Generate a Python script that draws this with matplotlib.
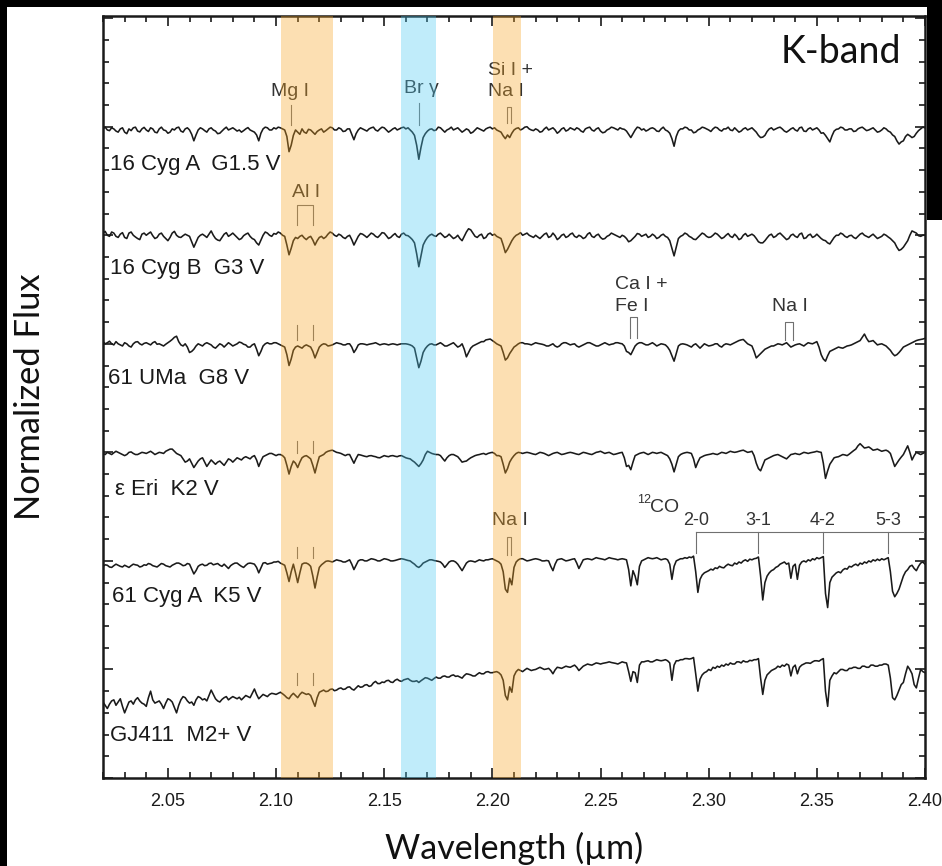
import numpy as np
import matplotlib.pyplot as plt
from matplotlib.patches import Rectangle
from matplotlib.ticker import MultipleLocator, FormatStrFormatter

# wavelength grid of the resampled spectra (micron), 0.001 um steps
wavelength = np.linspace(2.02, 2.40, 381)

star_names = ["16 Cyg A  G1.5 V", "16 Cyg B  G3 V", "61 UMa  G8 V",
              "\u03b5 Eri  K2 V", "61 Cyg A  K5 V", "GJ411  M2+ V"]
offsets = [2.0, 1.5, 1.0, 0.5, 0.0, -0.5]
label_y = [2.824, 2.349, 1.842, 1.327, 0.834, 0.198]
label_x = [2.0231, 2.0231, 2.0222, 2.0255, 2.0241, 2.0231]

flux_16cyga = [
    0.99, 0.998, 0.985, 0.982, 0.995, 0.99, 0.98, 0.975, 0.99, 0.995, 0.975, 0.968, 0.99, 0.982, 0.995, 0.998, 0.98, 0.976, 0.99, 0.997,
    0.985, 0.978, 0.995, 0.99, 0.975, 0.972, 0.99, 0.998, 0.985, 0.982, 0.97, 0.975, 0.99, 0.985, 0.995, 0.998, 0.98, 0.975, 0.99, 0.995,
    0.985, 0.965, 0.935, 0.962, 0.985, 0.995, 0.99, 0.982, 0.975, 0.99, 0.995, 0.985, 0.98, 0.968, 0.97, 0.98, 0.99, 0.998, 0.985, 0.99,
    0.995, 0.988, 0.98, 0.985, 0.975, 0.982, 0.99, 0.996, 0.985, 0.98, 0.975, 0.962, 0.935, 0.97, 0.99, 0.998, 0.995, 0.985, 0.985, 0.995,
    0.99, 0.998, 0.995, 0.99, 0.985, 0.955, 0.885, 0.915, 0.96, 0.985, 0.975, 0.965, 0.99, 0.975, 0.97, 0.988, 0.985, 0.975, 0.965, 0.978,
    0.985, 0.99, 0.975, 0.982, 0.99, 0.998, 0.995, 0.985, 0.985, 0.995, 0.99, 0.978, 0.98, 0.99, 0.99, 0.965, 0.94, 0.968, 0.985, 0.995,
    0.99, 0.985, 0.98, 0.99, 0.995, 0.998, 0.985, 0.98, 0.99, 0.998, 0.995, 0.985, 0.975, 0.982, 0.99, 0.995, 0.985, 0.99, 0.995, 0.998,
    0.99, 0.995, 0.985, 0.975, 0.96, 0.915, 0.85, 0.905, 0.95, 0.968, 0.98, 0.988, 0.99, 0.982, 0.985, 0.998, 0.995, 0.985, 0.975, 0.985,
    0.99, 0.998, 0.985, 0.99, 0.995, 0.985, 0.975, 0.982, 0.99, 0.985, 0.97, 0.975, 0.985, 0.995, 0.99, 0.985, 0.98, 0.99, 0.995, 0.998,
    0.99, 0.995, 0.985, 0.98, 0.975, 0.958, 0.945, 0.962, 0.95, 0.97, 0.985, 0.992, 0.995, 0.985, 0.99, 0.998, 1.0, 0.99, 0.985, 0.982,
    0.99, 0.985, 0.975, 0.978, 0.99, 0.998, 0.985, 0.99, 0.995, 0.985, 0.97, 0.978, 0.99, 0.995, 0.98, 0.985, 0.995, 0.99, 0.985, 0.995,
    0.99, 0.98, 0.975, 0.99, 0.995, 0.998, 0.985, 0.98, 0.99, 0.995, 0.98, 0.972, 0.975, 0.985, 0.99, 0.998, 0.995, 0.99, 0.985, 0.995,
    0.99, 0.988, 0.98, 0.965, 0.95, 0.968, 0.985, 0.998, 0.995, 0.985, 0.99, 0.98, 0.985, 0.992, 0.995, 0.99, 0.98, 0.978, 0.99, 0.998,
    0.985, 0.98, 0.97, 0.945, 0.91, 0.955, 0.98, 0.99, 0.99, 0.998, 0.995, 0.985, 0.985, 0.972, 0.975, 0.985, 0.99, 0.998, 0.995, 0.99,
    0.985, 0.978, 0.99, 0.998, 0.995, 0.985, 0.98, 0.99, 0.99, 0.998, 0.985, 0.982, 0.995, 0.985, 0.975, 0.98, 0.99, 0.995, 0.985, 0.99,
    0.995, 0.985, 0.975, 0.96, 0.95, 0.952, 0.96, 0.978, 0.99, 0.995, 0.985, 0.99, 0.995, 0.998, 0.99, 0.98, 0.975, 0.982, 0.99, 0.995,
    0.985, 0.98, 0.995, 0.998, 0.98, 0.978, 0.99, 0.995, 0.985, 0.99, 0.995, 0.985, 0.97, 0.972, 0.96, 0.945, 0.93, 0.958, 0.98, 0.988,
    0.99, 0.998, 0.995, 0.985, 0.985, 0.99, 0.99, 0.978, 0.98, 0.99, 0.995, 0.998, 0.99, 0.982, 0.985, 0.99, 0.995, 0.985, 0.975, 0.978,
    0.985, 0.995, 0.99, 0.98, 0.975, 0.962, 0.955, 0.935, 0.92, 0.93, 0.935, 0.955, 0.965, 0.958, 0.95, 0.955, 0.97, 0.982, 0.99, 0.998,
    0.995]

flux_16cygb = [
    1.01, 1.018, 1.0, 0.995, 1.015, 1.01, 0.995, 0.99, 1.005, 1.012, 0.99, 0.985, 1.01, 1.015, 1.0, 0.992, 0.985, 0.98, 1.005, 1.01,
    1.0, 1.008, 1.015, 0.998, 0.985, 0.99, 1.005, 1.01, 0.995, 0.985, 0.975, 0.99, 1.01, 1.018, 1.0, 0.992, 0.99, 0.998, 1.005, 1.0,
    0.995, 0.97, 0.945, 0.968, 0.99, 1.0, 1.005, 0.998, 0.99, 1.005, 1.02, 1.0, 0.985, 0.978, 0.975, 0.99, 1.005, 1.012, 0.995, 1.002,
    1.01, 1.0, 0.99, 0.98, 0.985, 0.998, 1.005, 1.01, 0.995, 0.985, 0.98, 0.965, 0.955, 0.978, 1.0, 1.015, 1.01, 1.0, 0.995, 1.008,
    1.005, 1.015, 1.01, 1.0, 0.995, 0.955, 0.91, 0.94, 0.975, 0.99, 0.985, 0.995, 1.0, 0.988, 0.98, 0.99, 0.995, 0.978, 0.955, 0.975,
    0.99, 0.995, 0.985, 0.992, 1.005, 1.015, 1.01, 1.0, 0.995, 1.005, 1.0, 0.99, 0.985, 0.995, 1.0, 0.98, 0.955, 0.975, 0.995, 1.008,
    1.005, 0.998, 0.99, 1.0, 1.01, 1.005, 0.995, 0.99, 1.0, 1.012, 1.01, 0.998, 0.985, 0.99, 1.0, 1.008, 0.995, 0.99, 1.005, 1.01,
    1.0, 0.998, 0.99, 0.98, 0.965, 0.915, 0.855, 0.905, 0.955, 0.975, 0.99, 1.0, 1.005, 0.998, 0.995, 1.005, 1.01, 1.0, 0.99, 0.995,
    1.005, 0.995, 0.985, 0.99, 1.0, 0.985, 0.975, 0.995, 1.015, 1.03, 1.025, 1.01, 0.995, 0.99, 1.0, 1.005, 0.985, 0.99, 1.005, 1.01,
    1.0, 1.005, 0.995, 0.99, 0.985, 0.955, 0.92, 0.935, 0.955, 0.975, 0.99, 1.0, 1.005, 1.012, 1.0, 1.005, 1.01, 1.0, 0.995, 0.99,
    1.0, 0.992, 0.985, 0.995, 1.005, 1.01, 0.99, 0.995, 1.01, 0.998, 0.98, 0.988, 1.0, 1.005, 0.99, 0.995, 1.005, 1.01, 0.995, 0.99,
    1.0, 0.995, 0.985, 0.99, 1.005, 1.012, 0.995, 0.99, 1.0, 1.005, 0.99, 0.982, 0.985, 0.995, 1.0, 1.01, 1.005, 1.0, 0.995, 0.99,
    1.0, 0.995, 0.985, 0.97, 0.975, 0.985, 0.995, 1.008, 1.005, 0.995, 1.0, 1.005, 0.99, 0.995, 1.005, 0.998, 0.985, 0.99, 1.0, 1.005,
    0.995, 0.99, 0.975, 0.94, 0.905, 0.945, 0.985, 0.995, 1.0, 1.01, 1.005, 0.995, 0.99, 0.982, 0.98, 0.99, 1.0, 1.01, 1.005, 0.995,
    0.99, 0.992, 1.0, 1.01, 1.005, 0.995, 0.985, 0.99, 1.0, 1.008, 0.995, 0.99, 1.005, 0.995, 0.98, 0.985, 1.0, 1.008, 0.995, 1.0,
    1.005, 0.998, 0.985, 0.97, 0.965, 0.965, 0.975, 0.988, 1.0, 1.005, 0.99, 0.995, 1.005, 1.01, 1.0, 0.99, 0.98, 0.985, 1.0, 1.005,
    0.995, 0.99, 1.005, 1.01, 0.985, 0.988, 1.0, 1.005, 0.99, 0.995, 1.005, 0.995, 0.985, 0.978, 0.975, 0.965, 0.96, 0.975, 0.99, 1.0,
    1.0, 1.01, 1.005, 0.995, 0.99, 0.998, 1.0, 0.99, 0.985, 0.995, 1.005, 1.01, 1.0, 0.995, 0.99, 0.998, 1.005, 0.995, 0.985, 0.99,
    0.995, 1.005, 1.0, 0.992, 0.985, 0.975, 0.965, 0.945, 0.93, 0.935, 0.945, 0.96, 0.975, 1.0, 1.02, 1.015, 1.01, 0.998, 0.995, 1.0,
    1.0]

flux_61uma = [
    1.01, 1.0, 1.005, 1.012, 1.0, 0.995, 1.01, 1.0, 0.995, 0.99, 1.005, 1.0, 0.99, 0.985, 1.0, 1.008, 1.01, 1.0, 0.995, 1.002,
    1.005, 1.0, 0.995, 1.005, 1.01, 0.998, 1.0, 0.995, 0.99, 0.998, 1.005, 1.012, 1.02, 1.03, 1.035, 1.01, 0.995, 0.99, 1.0, 0.985,
    0.96, 0.965, 0.975, 0.99, 1.0, 0.995, 0.99, 1.0, 1.005, 1.0, 0.995, 0.985, 0.98, 0.99, 1.0, 0.995, 0.985, 0.995, 1.005, 0.998,
    0.99, 0.995, 1.0, 1.008, 1.005, 0.998, 0.995, 0.985, 0.985, 0.995, 1.0, 0.975, 0.945, 0.965, 0.99, 1.0, 1.005, 1.0, 1.0, 1.005,
    1.005, 1.0, 0.995, 0.99, 0.985, 0.95, 0.9, 0.93, 0.97, 0.985, 0.99, 0.985, 0.98, 0.99, 0.995, 0.99, 0.985, 0.965, 0.935, 0.96,
    0.985, 0.995, 1.0, 0.998, 0.99, 0.992, 0.995, 1.0, 1.005, 1.002, 1.0, 0.995, 0.995, 1.0, 1.0, 0.985, 0.96, 0.975, 0.995, 1.0,
    1.0, 0.998, 0.995, 0.998, 1.0, 1.002, 1.005, 1.0, 0.995, 0.998, 1.0, 0.998, 0.995, 0.998, 1.0, 0.998, 0.995, 0.998, 1.0, 1.0,
    1.0, 0.998, 0.995, 0.99, 0.98, 0.935, 0.89, 0.92, 0.96, 0.978, 0.99, 0.998, 1.0, 0.995, 0.995, 1.0, 1.005, 0.998, 0.99, 0.99,
    0.995, 1.0, 1.005, 0.995, 0.985, 0.99, 1.0, 0.975, 0.94, 0.96, 0.98, 0.99, 0.995, 1.0, 1.005, 1.01, 1.01, 1.018, 1.02, 1.022,
    1.015, 1.008, 1.0, 0.995, 0.99, 0.96, 0.925, 0.935, 0.955, 0.97, 0.985, 0.992, 1.0, 1.005, 1.005, 1.0, 1.0, 0.998, 0.995, 1.0,
    1.005, 1.002, 1.0, 0.998, 0.995, 0.99, 0.99, 0.995, 1.0, 0.99, 0.985, 0.99, 1.0, 1.005, 1.005, 1.0, 0.995, 0.998, 1.0, 0.99,
    0.985, 0.99, 0.995, 1.0, 1.005, 1.005, 1.0, 0.995, 0.99, 0.99, 0.995, 1.0, 1.005, 1.0, 0.995, 0.998, 1.0, 1.005, 1.005, 1.002,
    1.0, 0.99, 0.965, 0.96, 0.95, 0.97, 0.99, 1.0, 1.005, 1.005, 1.0, 0.995, 0.995, 1.0, 1.005, 0.998, 0.99, 0.995, 1.0, 0.998,
    0.995, 0.985, 0.97, 0.945, 0.92, 0.955, 0.99, 0.998, 1.0, 0.998, 0.995, 0.99, 0.985, 0.995, 1.0, 0.99, 0.98, 0.99, 1.0, 0.995,
    0.99, 0.992, 0.995, 1.0, 1.0, 0.99, 0.985, 0.995, 1.0, 0.998, 0.995, 1.0, 1.005, 1.01, 1.015, 1.018, 1.02, 1.01, 1.0, 0.995,
    0.99, 0.965, 0.935, 0.945, 0.955, 0.965, 0.975, 0.98, 0.985, 0.99, 0.99, 0.995, 1.0, 0.998, 0.995, 1.0, 1.005, 0.995, 0.985, 0.99,
    0.995, 0.998, 1.0, 0.995, 0.99, 0.998, 1.005, 1.002, 1.0, 1.005, 1.01, 0.985, 0.95, 0.93, 0.92, 0.945, 0.965, 0.97, 0.975, 0.98,
    0.985, 0.982, 0.98, 0.985, 0.99, 0.992, 0.995, 1.0, 1.005, 1.01, 1.015, 1.03, 1.045, 1.025, 1.01, 1.012, 1.015, 1.005, 0.995, 0.998,
    1.0, 0.995, 0.99, 0.98, 0.97, 0.955, 0.945, 0.95, 0.96, 0.972, 0.985, 0.99, 0.995, 1.0, 1.005, 1.01, 1.015, 1.018, 1.02, 1.022,
    1.025]

flux_epseri = [
    0.995, 0.99, 1.0, 0.995, 0.99, 0.998, 1.005, 1.0, 0.995, 0.99, 0.985, 0.99, 1.0, 1.002, 0.995, 0.99, 0.99, 0.995, 1.0, 0.998,
    0.995, 1.0, 1.005, 0.998, 0.99, 0.995, 1.0, 0.998, 0.995, 1.005, 1.01, 1.015, 1.015, 1.005, 0.995, 0.99, 0.985, 0.97, 0.955, 0.96,
    0.97, 0.95, 0.93, 0.945, 0.96, 0.97, 0.975, 0.955, 0.935, 0.95, 0.965, 0.955, 0.945, 0.955, 0.96, 0.95, 0.94, 0.955, 0.97, 0.965,
    0.955, 0.965, 0.975, 0.97, 0.965, 0.975, 0.98, 0.975, 0.97, 0.98, 0.985, 0.965, 0.935, 0.96, 0.98, 0.985, 0.99, 0.995, 0.995, 0.99,
    0.985, 0.99, 0.99, 0.985, 0.975, 0.94, 0.9, 0.935, 0.96, 0.95, 0.93, 0.955, 0.975, 0.982, 0.985, 0.978, 0.97, 0.94, 0.905, 0.945,
    0.98, 0.985, 0.99, 1.0, 1.005, 1.008, 1.01, 1.005, 1.0, 0.998, 0.995, 0.99, 0.985, 0.99, 0.99, 0.97, 0.95, 0.972, 0.99, 0.988,
    0.985, 0.982, 0.98, 0.984, 0.985, 0.982, 0.98, 0.976, 0.975, 0.98, 0.985, 0.982, 0.98, 0.984, 0.985, 0.982, 0.98, 0.984, 0.985, 0.98,
    0.975, 0.972, 0.97, 0.962, 0.955, 0.945, 0.935, 0.948, 0.965, 0.99, 1.005, 1.0, 0.995, 0.992, 0.99, 0.99, 0.985, 0.972, 0.96, 0.975,
    0.985, 0.99, 0.99, 0.985, 0.98, 0.968, 0.955, 0.958, 0.96, 0.968, 0.975, 0.98, 0.985, 0.988, 0.99, 0.993, 0.995, 0.99, 0.995, 0.998,
    1.0, 0.995, 0.985, 0.985, 0.98, 0.945, 0.905, 0.925, 0.955, 0.972, 0.985, 0.995, 1.0, 0.998, 0.995, 0.998, 1.0, 0.998, 0.995, 0.992,
    0.99, 0.995, 1.0, 0.998, 0.995, 0.99, 0.985, 0.99, 0.995, 0.998, 1.0, 0.995, 0.99, 0.992, 0.995, 0.998, 1.0, 0.998, 0.995, 0.992,
    0.99, 0.995, 1.0, 0.998, 0.995, 0.992, 0.99, 0.995, 1.0, 1.002, 1.005, 1.0, 0.995, 0.998, 1.0, 0.995, 0.99, 0.992, 0.995, 0.998,
    1.0, 0.975, 0.935, 0.94, 0.92, 0.955, 0.985, 0.99, 0.995, 0.998, 1.0, 0.995, 0.99, 0.995, 1.0, 0.998, 0.995, 0.998, 1.0, 0.995,
    0.99, 0.985, 0.97, 0.945, 0.91, 0.945, 0.98, 0.99, 0.995, 0.998, 1.0, 0.998, 0.995, 0.97, 0.93, 0.955, 0.975, 0.98, 0.985, 0.988,
    0.99, 0.992, 0.995, 0.992, 0.99, 0.995, 1.0, 0.998, 0.995, 1.0, 1.005, 1.002, 1.0, 1.002, 1.005, 1.008, 1.01, 1.005, 1.0, 1.002,
    1.005, 0.985, 0.95, 0.925, 0.915, 0.94, 0.965, 0.97, 0.975, 0.98, 0.985, 0.988, 0.99, 0.985, 0.98, 0.975, 0.97, 0.98, 0.99, 0.992,
    0.995, 0.992, 0.99, 0.995, 1.0, 0.998, 0.995, 0.998, 1.0, 1.002, 1.005, 1.002, 1.0, 0.95, 0.88, 0.915, 0.945, 0.96, 0.975, 0.978,
    0.98, 0.985, 0.99, 0.988, 0.985, 0.992, 1.0, 1.008, 1.015, 1.03, 1.04, 1.03, 1.02, 1.022, 1.025, 1.018, 1.01, 1.012, 1.015, 1.01,
    1.005, 1.008, 1.01, 1.005, 0.995, 0.965, 0.935, 0.95, 0.965, 0.978, 0.99, 1.01, 1.03, 1.0, 0.965, 0.985, 1.0, 0.995, 0.99, 0.995,
    1.0]

flux_61cyga = [
    0.975, 0.982, 0.98, 0.972, 0.97, 0.978, 0.985, 0.98, 0.975, 0.972, 0.98, 0.975, 0.97, 0.978, 0.985, 0.982, 0.98, 0.972, 0.975, 0.982,
    0.98, 0.988, 0.985, 0.978, 0.975, 0.972, 0.98, 0.988, 0.985, 0.978, 0.975, 0.972, 0.98, 0.985, 0.99, 0.99, 0.985, 0.978, 0.98, 0.988,
    0.985, 0.962, 0.94, 0.955, 0.975, 0.982, 0.985, 0.978, 0.98, 0.988, 0.99, 0.982, 0.985, 0.988, 0.98, 0.975, 0.985, 0.975, 0.965, 0.978,
    0.985, 0.99, 0.99, 0.982, 0.975, 0.97, 0.98, 0.988, 0.99, 0.988, 0.985, 0.97, 0.945, 0.968, 0.99, 0.992, 0.985, 0.988, 0.99, 0.995,
    0.995, 0.998, 0.99, 0.985, 0.98, 0.945, 0.905, 0.95, 0.985, 0.945, 0.9, 0.945, 0.985, 0.99, 0.99, 0.985, 0.975, 0.93, 0.875, 0.925,
    0.97, 0.982, 0.99, 0.998, 1.0, 0.998, 0.995, 1.0, 1.005, 1.002, 1.0, 0.995, 0.995, 1.0, 1.005, 0.985, 0.96, 0.98, 1.0, 1.005,
    1.005, 1.0, 1.0, 1.005, 1.01, 1.008, 1.005, 1.0, 1.0, 1.005, 1.01, 1.008, 1.005, 1.0, 1.0, 1.002, 1.005, 1.008, 1.01, 1.008,
    1.005, 1.002, 1.0, 0.992, 0.985, 0.975, 0.97, 0.978, 0.99, 0.995, 1.0, 1.005, 1.005, 1.002, 1.0, 0.998, 0.995, 0.985, 0.97, 0.982,
    0.995, 1.0, 1.0, 0.995, 0.985, 0.97, 0.955, 0.972, 0.99, 0.998, 1.0, 0.998, 0.995, 1.0, 1.005, 1.002, 1.0, 1.005, 1.005, 1.008,
    1.01, 1.005, 1.0, 0.995, 0.985, 0.95, 0.87, 0.855, 0.92, 0.89, 0.97, 0.995, 1.005, 1.01, 1.01, 1.005, 1.0, 1.002, 1.005, 1.008,
    1.01, 1.008, 1.005, 1.0, 1.0, 1.002, 1.0, 0.975, 0.955, 0.985, 1.005, 1.008, 1.01, 1.005, 1.0, 1.002, 1.005, 1.008, 1.01, 0.99,
    0.965, 0.985, 1.005, 1.008, 1.01, 1.008, 1.005, 1.01, 1.015, 1.012, 1.01, 1.008, 1.005, 1.01, 1.015, 1.012, 1.01, 1.008, 1.005, 1.008,
    1.01, 1.008, 1.005, 0.96, 0.885, 0.955, 0.93, 0.89, 0.975, 1.0, 1.005, 1.01, 1.015, 1.012, 1.01, 1.012, 1.015, 1.01, 1.005, 1.008,
    1.01, 1.005, 0.985, 0.915, 0.975, 1.0, 1.005, 1.01, 1.01, 1.015, 1.012, 1.018, 1.015, 1.022, 0.95, 0.855, 0.915, 0.935, 0.945, 0.95,
    0.955, 0.962, 0.958, 0.968, 0.965, 0.975, 0.97, 0.968, 0.978, 0.985, 0.98, 0.978, 0.99, 0.985, 0.995, 0.99, 1.0, 1.005, 0.998, 1.008,
    1.005, 1.01, 1.012, 1.018, 0.93, 0.82, 0.9, 0.93, 0.945, 0.955, 0.96, 0.97, 0.975, 0.985, 0.99, 0.995, 0.985, 0.99, 0.92, 0.975,
    0.985, 0.915, 0.98, 0.995, 1.0, 0.995, 1.005, 1.0, 1.01, 1.005, 1.015, 1.01, 1.015, 1.02, 0.85, 0.785, 0.9, 0.925, 0.935, 0.945,
    0.95, 0.945, 0.958, 0.965, 0.962, 0.975, 0.972, 0.98, 0.985, 0.978, 0.99, 0.985, 0.995, 0.99, 1.0, 0.995, 1.005, 1.0, 1.008, 1.002,
    1.01, 1.005, 1.01, 1.015, 0.95, 0.86, 0.835, 0.85, 0.87, 0.9, 0.93, 0.95, 0.96, 0.975, 0.98, 0.965, 0.955, 0.975, 0.99, 0.995,
    0.985]

flux_gj411 = [
    0.85, 0.835, 0.82, 0.84, 0.855, 0.86, 0.835, 0.85, 0.865, 0.83, 0.80, 0.825, 0.85, 0.855, 0.84, 0.86, 0.87, 0.855, 0.845, 0.84,
    0.83, 0.87, 0.9, 0.86, 0.845, 0.85, 0.855, 0.84, 0.82, 0.845, 0.865, 0.86, 0.85, 0.825, 0.80, 0.835, 0.86, 0.875, 0.87, 0.855,
    0.845, 0.85, 0.835, 0.86, 0.875, 0.87, 0.86, 0.865, 0.855, 0.88, 0.905, 0.885, 0.865, 0.855, 0.85, 0.862, 0.87, 0.875, 0.86, 0.868,
    0.875, 0.87, 0.865, 0.872, 0.86, 0.87, 0.88, 0.875, 0.87, 0.89, 0.91, 0.885, 0.865, 0.875, 0.885, 0.88, 0.875, 0.885, 0.89, 0.888,
    0.885, 0.89, 0.895, 0.888, 0.88, 0.87, 0.865, 0.88, 0.89, 0.88, 0.87, 0.885, 0.895, 0.89, 0.885, 0.888, 0.88, 0.855, 0.83, 0.87,
    0.895, 0.9, 0.905, 0.898, 0.9, 0.908, 0.91, 0.902, 0.905, 0.912, 0.915, 0.908, 0.91, 0.918, 0.92, 0.91, 0.905, 0.915, 0.925, 0.918,
    0.92, 0.928, 0.93, 0.922, 0.925, 0.938, 0.945, 0.935, 0.935, 0.942, 0.94, 0.948, 0.95, 0.942, 0.94, 0.95, 0.955, 0.948, 0.945, 0.952,
    0.955, 0.958, 0.95, 0.945, 0.945, 0.948, 0.94, 0.948, 0.955, 0.962, 0.96, 0.955, 0.95, 0.958, 0.965, 0.96, 0.96, 0.968, 0.97, 0.965,
    0.965, 0.972, 0.975, 0.968, 0.97, 0.965, 0.96, 0.972, 0.98, 0.978, 0.975, 0.97, 0.97, 0.978, 0.985, 0.98, 0.98, 0.988, 0.99, 0.985,
    0.985, 0.988, 0.99, 0.985, 0.975, 0.95, 0.88, 0.86, 0.92, 0.895, 0.97, 0.99, 1.0, 0.995, 0.99, 0.998, 1.005, 1.0, 0.995, 0.998,
    1.0, 1.005, 1.01, 1.005, 1.0, 1.002, 1.005, 0.995, 0.98, 0.998, 1.01, 1.008, 1.005, 1.01, 1.015, 1.012, 1.01, 1.015, 1.02, 1.01,
    0.995, 1.005, 1.015, 1.02, 1.025, 1.022, 1.02, 1.025, 1.03, 1.028, 1.025, 1.028, 1.03, 1.032, 1.035, 1.032, 1.03, 1.028, 1.025, 1.03,
    1.035, 1.032, 1.03, 0.99, 0.945, 0.99, 0.985, 0.94, 1.02, 1.035, 1.035, 1.038, 1.04, 1.035, 1.035, 1.04, 1.045, 1.042, 1.04, 1.042,
    1.045, 1.04, 1.03, 0.95, 1.02, 1.04, 1.04, 1.045, 1.045, 1.05, 1.05, 1.048, 1.05, 1.055, 0.98, 0.9, 0.955, 0.975, 0.985, 0.99,
    1.0, 0.995, 1.01, 1.005, 1.015, 1.01, 1.02, 1.015, 1.025, 1.02, 1.03, 1.025, 1.025, 1.035, 1.035, 1.03, 1.04, 1.035, 1.035, 1.042,
    1.04, 1.045, 1.045, 1.05, 0.96, 0.885, 0.95, 0.975, 0.985, 0.995, 1.0, 1.005, 1.015, 1.01, 1.02, 1.015, 1.025, 1.02, 0.97, 1.01,
    1.02, 0.98, 1.01, 1.02, 1.025, 1.03, 1.03, 1.028, 1.035, 1.04, 1.04, 1.038, 1.045, 1.05, 0.9, 0.83, 0.95, 0.97, 0.985, 0.98,
    0.99, 1.0, 1.0, 0.995, 0.995, 1.005, 1.005, 1.01, 1.01, 1.005, 1.005, 1.015, 1.015, 1.01, 1.01, 1.02, 1.02, 1.015, 1.015, 1.02,
    1.02, 1.025, 1.025, 1.02, 0.96, 0.87, 0.86, 0.88, 0.905, 0.93, 0.94, 0.98, 1.015, 1.0, 0.98, 0.93, 0.915, 0.96, 1.0, 0.99,
    0.985]

spectra = [flux_16cyga, flux_16cygb, flux_61uma, flux_epseri, flux_61cyga, flux_gj411]
for s in spectra:
    assert len(s) == len(wavelength), [len(t) for t in spectra]

# highlighted line regions (micron)
orange_bands = [(2.1023, 2.1264), (2.2004, 2.2133)]
blue_band = (2.1578, 2.1740)

# Al I doublet, marked on the lower four spectra
al_lines = [2.1096, 2.1170]
al_tick_y = [(2.017, 2.087), (1.497, 1.552), (1.013, 1.064), (0.428, 0.484)]

# CO bandheads
co_heads = [2.2940, 2.3227, 2.3528, 2.3828]
co_labels = ["2-0", "3-1", "4-2", "5-3"]

fig = plt.figure(figsize=(9.42, 8.66), dpi=100)
fig.patch.set_facecolor("black")
# white page with a dark margin at the top, left and upper right
fig.patches.append(Rectangle((7 / 942, 0), 1, 859 / 866, transform=fig.transFigure,
                             facecolor="white", edgecolor="none", zorder=-10))
fig.patches.append(Rectangle((927 / 942, 646 / 866), 1, 1, transform=fig.transFigure,
                             facecolor="black", edgecolor="none", zorder=-9))

ax = fig.add_axes([103 / 942, 88 / 866, 822 / 942, 762 / 866])
ax.set_xlim(2.02, 2.40)
ax.set_ylim(0, 3.51)

for flux, off in zip(spectra, offsets):
    ax.plot(wavelength, np.array(flux) + off, color="#1a1a1a", lw=1.15, zorder=2)

for lo, hi in orange_bands:
    ax.axvspan(lo, hi, color="#f9a623", alpha=0.35, lw=0, zorder=10)
ax.axvspan(blue_band[0], blue_band[1], color="#4bc9f1", alpha=0.35, lw=0, zorder=10)

lab = dict(family="Liberation Sans", fontsize=16, color="#1a1a1a", va="center", ha="left")
for name, x, y in zip(star_names, label_x, label_y):
    ax.text(x, y, name, **lab)

ann = dict(family="Liberation Sans", fontsize=14, color="#333333", va="center")
gray = dict(color="#707070", lw=0.8, zorder=3)

# Mg I and Br gamma
ax.text(2.1064, 3.160, "Mg I", ha="center", **ann)
ax.plot([2.1068, 2.1068], [3.008, 3.100], **gray)
ax.text(2.1674, 3.174, "Br \u03b3", ha="center", **ann)
ax.plot([2.1663, 2.1663], [3.008, 3.109], **gray)

# Si I + Na I
ax.text(2.1981, 3.261, "Si I +", ha="left", **ann)
ax.text(2.1981, 3.160, "Na I", ha="left", **ann)
ax.plot([2.2068, 2.2068, 2.2087, 2.2087], [3.017, 3.091, 3.091, 3.017], **gray)

# Al I
ax.text(2.1139, 2.699, "Al I", ha="center", **ann)
ax.plot([2.1096, 2.1096, 2.1170, 2.1170], [2.547, 2.639, 2.639, 2.547], **gray)
for y0, y1 in al_tick_y:
    for w in al_lines:
        ax.plot([w, w], [y0, y1], **gray)

# Ca I + Fe I and Na I on 61 UMa
ax.text(2.2569, 2.271, "Ca I +", ha="left", **ann)
ax.text(2.2569, 2.174, "Fe I", ha="left", **ann)
ax.plot([2.2634, 2.2634, 2.2667, 2.2667], [2.027, 2.123, 2.123, 2.027], **gray)
ax.text(2.3292, 2.174, "Na I", ha="left", **ann)
ax.plot([2.3352, 2.3352, 2.3389, 2.3389], [2.017, 2.100, 2.100, 2.017], **gray)

# Na I on 61 Cyg A
ax.text(2.2083, 1.188, "Na I", ha="center", **ann)
ax.plot([2.2068, 2.2068, 2.2087, 2.2087], [1.027, 1.110, 1.110, 1.027], **gray)

# 12CO bandheads
ax.text(2.2671, 1.281, "12", ha="left", family="Liberation Sans", fontsize=9,
        color="#333333", va="center")
ax.text(2.2731, 1.248, "CO", ha="left", **ann)
ax.plot([co_heads[0], 2.40], [1.135, 1.135], **gray)
for w, t in zip(co_heads, co_labels):
    ax.plot([w, w], [1.036, 1.135], **gray)
    ax.text(w, 1.184, t, ha="center", family="Liberation Sans", fontsize=13,
            color="#333333", va="center")

ax.text(2.3889, 3.344, "K-band", ha="right", va="center", family="Lato",
        fontsize=27, color="#111111")

ax.xaxis.set_major_locator(MultipleLocator(0.05))
ax.xaxis.set_minor_locator(MultipleLocator(0.01))
ax.xaxis.set_major_formatter(FormatStrFormatter("%.2f"))
ax.yaxis.set_major_locator(MultipleLocator(0.5))
ax.yaxis.set_minor_locator(MultipleLocator(0.1))
ax.tick_params(which="both", direction="in", top=True, right=True, width=1.2,
               colors="#1a1a1a", labelleft=False)
ax.tick_params(which="major", length=7, pad=11, labelsize=13)
ax.tick_params(which="minor", length=4.5)
for lbl in ax.get_xticklabels():
    lbl.set_family("Liberation Sans")
for s in ax.spines.values():
    s.set_linewidth(1.8)
    s.set_color("#1a1a1a")

fig.text(514 / 942, 1 - 848 / 866, "Wavelength (\u00b5m)", ha="center", va="center",
         family="Lato", fontsize=24.5, color="#111111")
fig.text(30 / 942, 1 - 397 / 866, "Normalized Flux", ha="center", va="center",
         rotation=90, family="Lato", fontsize=24.8, color="#111111")

fig.savefig("out.png", dpi=100, facecolor=fig.get_facecolor())
